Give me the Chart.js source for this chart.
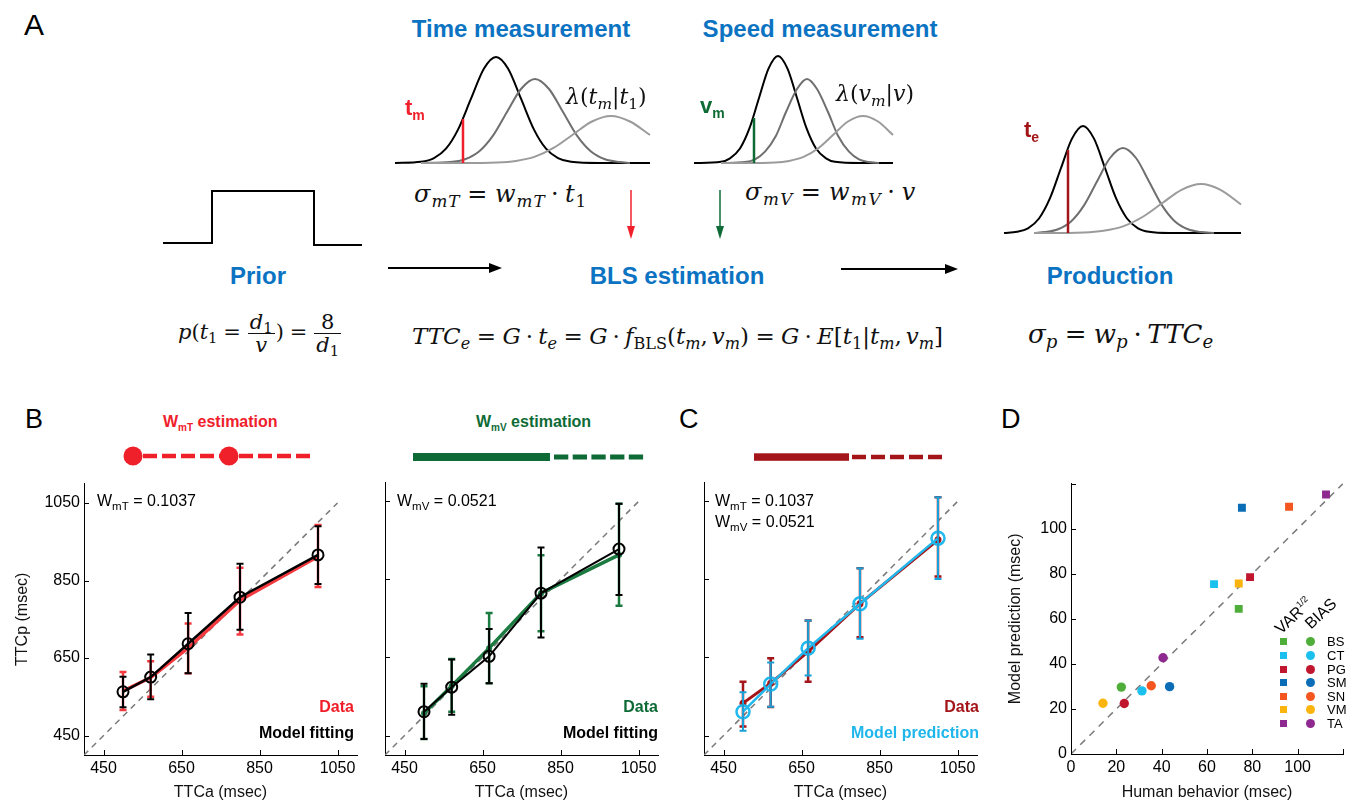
<!DOCTYPE html>
<html>
<head>
<meta charset="utf-8">
<script src="https://cdn.jsdelivr.net/npm/chart.js"></script>
<style>
html,body{margin:0;padding:0;background:#fff;}
#page{position:relative;width:1355px;height:802px;overflow:hidden;background:#fff;}
canvas{position:absolute;}
svg{position:absolute;left:0;top:0;}
.t{position:absolute;font-family:'Liberation Sans',Arial,Helvetica,sans-serif;line-height:1;white-space:nowrap;color:#000;}
.c{transform:translateX(-50%);}
.r{transform:translateX(-100%);}
.b{font-weight:bold;}
.ttl{font-weight:bold;color:#0b73c2;font-size:24px;}
.sb{font-size:0.72em;position:relative;top:0.32em;}
.fm{position:absolute;font-family:'DejaVu Serif','Liberation Serif',serif;font-style:italic;font-size:21px;line-height:1;white-space:nowrap;color:#111;}
.u{font-style:normal;}
.s{font-size:0.7em;position:relative;top:0.3em;}
.eq{font-style:normal;margin:0 0.28em;}
.dt{font-style:normal;margin:0 0.22em;}
.cm{font-style:normal;margin-right:0.17em;}
.frac{display:inline-block;vertical-align:middle;text-align:center;margin:0 1px;}
.frac>span{display:block;padding:0 2px;line-height:1.05;}
.frac>span:first-child{border-bottom:1px solid #111;}
.sq{position:absolute;width:7px;height:7px;}
.dot{position:absolute;width:9px;height:9px;border-radius:50%;}
</style>
</head>
<body>
<div id="page">

<svg width="1355" height="802">
  <!-- arrows panel A -->
  <line x1="631" y1="190" x2="631" y2="228" stroke="#f0202b" stroke-width="1.5"/>
  <polygon points="627,226 635,226 631,239" fill="#f0202b"/>
  <line x1="720" y1="190" x2="720" y2="228" stroke="#0e6b36" stroke-width="1.5"/>
  <polygon points="716,226 724,226 720,239" fill="#0e6b36"/>
  <line x1="388" y1="268" x2="492" y2="268" stroke="#000" stroke-width="2"/>
  <polygon points="489,263 489,273 502,268" fill="#000"/>
  <line x1="841" y1="269" x2="948" y2="269" stroke="#000" stroke-width="2"/>
  <polygon points="945,264 945,274 958,269" fill="#000"/>
  <!-- estimation bars -->
  <line x1="143" y1="456" x2="220" y2="456" stroke="#f0202b" stroke-width="4.5" stroke-dasharray="14 5"/>
  <line x1="239" y1="456" x2="311" y2="456" stroke="#f0202b" stroke-width="4.5" stroke-dasharray="14 5"/>
  <circle cx="133" cy="456" r="9.5" fill="#f0202b"/>
  <circle cx="229" cy="456" r="9.5" fill="#f0202b"/>
  <rect x="413" y="453" width="137" height="8" fill="#0e6b36"/>
  <line x1="554" y1="457" x2="646" y2="457" stroke="#0e6b36" stroke-width="5" stroke-dasharray="14.3 4.4"/>
  <rect x="754" y="453.3" width="95" height="7.5" fill="#a31518"/>
  <line x1="852" y1="457" x2="944" y2="457" stroke="#a31518" stroke-width="4.5" stroke-dasharray="14 5"/>
</svg>

<canvas id="gTime" width="275" height="128" style="left:385px;top:45px"></canvas>
<canvas id="gSpeed" width="219" height="128" style="left:684px;top:45px"></canvas>
<canvas id="gProd" width="257" height="128" style="left:994px;top:115px"></canvas>
<canvas id="gPrior" width="219" height="72" style="left:153px;top:181px"></canvas>

<canvas id="cB1" width="370" height="332" style="left:0px;top:470px"></canvas>
<canvas id="cB2" width="300" height="332" style="left:370px;top:470px"></canvas>
<canvas id="cC" width="300" height="332" style="left:690px;top:470px"></canvas>
<canvas id="cD" width="355" height="332" style="left:1000px;top:470px"></canvas>

<!-- panel A text -->
<div class="t" style="left:24px;top:10px;font-size:30px">A</div>
<div class="t ttl c" style="left:521px;top:17px">Time measurement</div>
<div class="t ttl c" style="left:820px;top:17px">Speed measurement</div>
<div class="t ttl c" style="left:258px;top:264px">Prior</div>
<div class="t ttl c" style="left:677px;top:264px">BLS estimation</div>
<div class="t ttl c" style="left:1110px;top:264px">Production</div>

<div class="t b" style="left:405px;top:97px;font-size:22px;color:#f0202b">t<span style="font-size:14px;position:relative;top:5px">m</span></div>
<div class="t b" style="left:700px;top:95px;font-size:22px;color:#0e6b36">v<span style="font-size:14px;position:relative;top:5px">m</span></div>
<div class="t b" style="left:1024px;top:119px;font-size:22px;color:#a31518">t<span style="font-size:14px;position:relative;top:5px">e</span></div>

<div class="fm" style="left:566px;top:86px;font-size:22px">λ<span class="u">(</span>t<span class="s">m</span><span class="u">|</span>t<span class="s u">1</span><span class="u">)</span></div>
<div class="fm" style="left:836px;top:83px;font-size:22px">λ<span class="u">(</span>v<span class="s">m</span><span class="u">|</span>v<span class="u">)</span></div>
<div class="fm" style="left:414px;top:182px;font-size:24px;letter-spacing:1px">σ<span class="s">mT</span><span class="eq">=</span>w<span class="s">mT</span><span class="dt">·</span>t<span class="s u">1</span></div>
<div class="fm" style="left:745px;top:180px;font-size:24px;letter-spacing:1.5px">σ<span class="s">mV</span><span class="eq">=</span>w<span class="s">mV</span><span class="dt">·</span>v</div>
<div class="fm" style="left:178px;top:311px">p<span class="u">(</span>t<span class="s u">1</span><span class="eq">=</span><span class="frac"><span>d<span class="s u">1</span></span><span>v</span></span><span class="u">)</span><span class="eq">=</span><span class="frac"><span class="u">8</span><span>d<span class="s u">1</span></span></span></div>
<div class="fm" style="left:412px;top:325px;font-size:23px">TTC<span class="s">e</span><span class="eq">=</span>G<span class="dt">·</span>t<span class="s">e</span><span class="eq">=</span>G<span class="dt">·</span>f<span class="s u">BLS</span><span class="u">(</span>t<span class="s">m</span><span class="cm">,</span>v<span class="s">m</span><span class="u">)</span><span class="eq">=</span>G<span class="dt">·</span>E<span class="u">[</span>t<span class="s u">1</span><span class="u">|</span>t<span class="s">m</span><span class="cm">,</span>v<span class="s">m</span><span class="u">]</span></div>
<div class="fm" style="left:1028px;top:321px;font-size:26px">σ<span class="s">p</span><span class="eq">=</span>w<span class="s">p</span><span class="dt">·</span>TTC<span class="s">e</span></div>

<!-- panels B C D text -->
<div class="t" style="left:25px;top:406px;font-size:27px">B</div>
<div class="t" style="left:679px;top:406px;font-size:27px">C</div>
<div class="t" style="left:1001px;top:406px;font-size:27px">D</div>
<div class="t b" style="left:163px;top:414px;font-size:16px;color:#f0202b">W<span style="font-size:10px;position:relative;top:4px">mT</span> estimation</div>
<div class="t b" style="left:476px;top:414px;font-size:16px;color:#0e6b36">W<span style="font-size:10px;position:relative;top:4px">mV</span> estimation</div>

<div class="t" style="left:97px;top:493px;font-size:16px">W<span class="sb">mT</span> = 0.1037</div>
<div class="t" style="left:397px;top:493px;font-size:16px">W<span class="sb">mV</span> = 0.0521</div>
<div class="t" style="left:715px;top:493px;font-size:16px">W<span class="sb">mT</span> = 0.1037</div>
<div class="t" style="left:715px;top:514px;font-size:16px">W<span class="sb">mV</span> = 0.0521</div>

<div class="t b r" style="left:354px;top:699px;font-size:16px;color:#f0202b">Data</div>
<div class="t b r" style="left:354px;top:725px;font-size:16px">Model fitting</div>
<div class="t b r" style="left:658px;top:699px;font-size:16px;color:#0e6b36">Data</div>
<div class="t b r" style="left:658px;top:725px;font-size:16px">Model fitting</div>
<div class="t b r" style="left:979px;top:699px;font-size:16px;color:#a31518">Data</div>
<div class="t b r" style="left:979px;top:725px;font-size:16px;color:#1fb6ec">Model prediction</div>

<div class="t" style="left:1283px;top:621px;font-size:16px;transform:rotate(-43deg);transform-origin:0 100%">VAR<span style="font-size:9px;position:relative;top:-7px">1/2</span></div>
<div class="t" style="left:1313px;top:616px;font-size:16px;transform:rotate(-43deg);transform-origin:0 100%">BIAS</div>
<div id="legD"></div>

</div>

<script>
var FONT = "'Liberation Sans', Arial, Helvetica, sans-serif";

// ---- panel A: curves (x offset, height above baseline)
var timeBlack = [[0,0],[26,1.2],[39,4.9],[51,14.3],[63,33.4],[76,64.3],[89,94.5],[101,106],[113,94.5],[126,64.3],[139,33.4],[151,14.3],[163,4.9],[176,1.2],[205,0],[255,0]];
var timeMid = [[26,0],[55,0.9],[70,3.7],[84,11.4],[98,27.3],[112,51],[126,74],[140,84],[154,74],[168,51],[182,27.3],[196,11.4],[210,3.7],[225,0.9],[235,0]];
var timeLight = [[26,0],[65,0],[102,0.5],[121,2.1],[140,6.4],[159,15.3],[178,28.5],[197,41.5],[216,47],[235,41.5],[255,28]];
var speedBlack = [[0,0],[27,1.2],[36,4.7],[46,14.5],[55.5,34.8],[65,65],[74.5,94.4],[84,107],[93.5,94.4],[103,65],[112.5,34.8],[122,14.5],[132,4.7],[141,1.2],[166,0],[199,0]];
var speedMid = [[27,0],[51,0.9],[61,3.7],[71,11.4],[82,27.3],[92,51],[103,74],[113,84],[123,74],[134,51],[144,27.3],[155,11.4],[165,3.7],[175,0.9],[185,0]];
var speedLight = [[27,0],[51,0],[81,0.5],[95,2.1],[110,6.4],[125,15.3],[139.5,28.5],[154,41.5],[169,47],[184,41.5],[199,28]];
var prodBlack = [[0,0],[13,1.2],[24,4.7],[35,14.5],[46,34.8],[57,65],[68,94.4],[79,107],[90,94.4],[101,65],[112,34.8],[123,14.5],[134,4.7],[145,1.2],[166,0],[237,0]];
var prodMid = [[30,0],[41,0.9],[54,3.7],[67,11.5],[80,27.6],[93,51.6],[106,75],[119,85],[132,75],[145,51.6],[158,27.6],[171,11.5],[184,3.7],[197,0.9],[210,0]];
var prodLight = [[30,0],[41,0],[80,0.5],[99.5,2.2],[119,6.6],[138.5,16],[158,29.7],[177.5,43.2],[197,49],[216.5,43.2],[237,28.5]];
var tmMark = [[68,0],[68,44]];
var vmMark = [[60,0],[60,45]];
var teMark = [[64,0],[64,83]];
var priorStep = [[0,0],[49,0],[49,52],[151,52],[151,-2],[199,-2]];

// ---- panels B, C
var ttca = [500, 571, 667, 800, 1000];
var bTData = [565, 600, 676, 799, 912];
var bTDataLo = [516, 550, 611, 711, 833];
var bTDataHi = [614, 642, 739, 883, 993];
var bTFit = [563, 601, 687, 807, 916];
var bTFitLo = [523, 544, 611, 723, 841];
var bTFitHi = [602, 659, 766, 893, 990];

var bVData = [507, 577, 674, 815, 913];
var bVDataLo = [441, 511, 584, 717, 783];
var bVDataHi = [576, 646, 764, 912, 1044];
var bVFit = [511, 574, 653, 815, 928];
var bVFitLo = [441, 503, 584, 701, 810];
var bVFitHi = [583, 645, 723, 932, 1044];

var cData = [533, 584, 665, 788, 952];
var cDataLo = [473, 523, 588, 702, 858];
var cDataHi = [588, 648, 745, 879, 1061];
var cPred = [511, 582, 674, 788, 956];
var cPredLo = [462, 524, 604, 698, 851];
var cPredHi = [561, 637, 745, 879, 1061];

var ttcTicks = [450, 650, 850, 1050];
var diagTTC = [400, 1050];

// ---- panel D
var subjects = ['BS', 'CT', 'PG', 'SM', 'SN', 'VM', 'TA'];
var subjColors = ['#4fad3a', '#1cc0ee', '#c0172f', '#0b6db6', '#f5561f', '#fbb40d', '#8e2a8f'];
var varHuman = [74, 63.1, 79, 75.4, 96.2, 74, 112.5];
var varModel = [64.4, 75.4, 78.5, 109.3, 109.7, 75.7, 115.2];
var biasHuman = [22.2, 31.3, 23.5, 43.5, 35.4, 14.1, 40.6];
var biasModel = [29.7, 28, 22.4, 29.9, 30.3, 22.5, 42.7];
var dTicks = [0, 20, 40, 60, 80, 100];
var dTickMarks = [0, 20, 40, 60, 80, 100, 120];
var diagD = [0, 120];

function pairs(arr) {
  return arr.map(function (p) { return { x: p[0], y: p[1] }; });
}
function pts(xs, ys) {
  return xs.map(function (x, i) { return { x: x, y: ys[i] }; });
}

// error bars, drawn right after their own dataset
var errBars = {
  id: 'errBars',
  afterDatasetDraw: function (chart, args) {
    var ds = chart.data.datasets[args.index];
    if (!ds.errLo) return;
    var ctx = chart.ctx, xs = chart.scales.x, ys = chart.scales.y;
    ctx.save();
    ctx.strokeStyle = ds.errColor || ds.borderColor;
    ctx.lineWidth = ds.errWidth || 2;
    ds.data.forEach(function (p, i) {
      var x = xs.getPixelForValue(p.x);
      var y1 = ys.getPixelForValue(ds.errLo[i]);
      var y2 = ys.getPixelForValue(ds.errHi[i]);
      ctx.beginPath();
      ctx.moveTo(x, y1); ctx.lineTo(x, y2);
      ctx.moveTo(x - 3.5, y1); ctx.lineTo(x + 3.5, y1);
      ctx.moveTo(x - 3.5, y2); ctx.lineTo(x + 3.5, y2);
      ctx.stroke();
    });
    ctx.restore();
  }
};

// inward tick marks
var inTicks = {
  id: 'inTicks',
  afterDraw: function (chart, args, opts) {
    if (!opts || !opts.x) return;
    var ctx = chart.ctx, a = chart.chartArea;
    ctx.save();
    ctx.strokeStyle = '#000';
    ctx.lineWidth = 1;
    ctx.beginPath();
    opts.x.forEach(function (v) {
      var px = Math.round(chart.scales.x.getPixelForValue(v)) + 0.5;
      ctx.moveTo(px, a.bottom); ctx.lineTo(px, a.bottom - 5);
    });
    opts.y.forEach(function (v) {
      var py = Math.round(chart.scales.y.getPixelForValue(v)) + 0.5;
      ctx.moveTo(a.left, py); ctx.lineTo(a.left + 5, py);
    });
    ctx.stroke();
    ctx.restore();
  }
};

function curveSet(data, color, width) {
  return {
    data: pairs(data), borderColor: color, borderWidth: width || 2,
    pointRadius: 0, cubicInterpolationMode: 'monotone', fill: false, clip: false
  };
}

function schematic(id, sets, xmax, ymin, ymax, pad) {
  new Chart(document.getElementById(id), {
    type: 'line',
    data: { datasets: sets },
    options: {
      responsive: false, animation: false, devicePixelRatio: 1,
      layout: { padding: pad },
      plugins: { legend: { display: false }, tooltip: { enabled: false } },
      scales: {
        x: { type: 'linear', min: 0, max: xmax, display: false },
        y: { type: 'linear', min: ymin, max: ymax, display: false }
      }
    }
  });
}

var gPad = { left: 10, right: 10, top: 8, bottom: 10 };
// dataset 0 is drawn on top
schematic('gTime', [
  curveSet(tmMark, '#f0202b', 2.5),
  curveSet(timeLight, '#9b9b9b'),
  curveSet(timeMid, '#6f6f6f'),
  curveSet(timeBlack, '#000')
], 255, 0, 110, gPad);
schematic('gSpeed', [
  curveSet(vmMark, '#0e6b36', 2.5),
  curveSet(speedLight, '#9b9b9b'),
  curveSet(speedMid, '#6f6f6f'),
  curveSet(speedBlack, '#000')
], 199, 0, 110, gPad);
schematic('gProd', [
  curveSet(teMark, '#a31518', 2.5),
  curveSet(prodLight, '#9b9b9b'),
  curveSet(prodMid, '#6f6f6f'),
  curveSet(prodBlack, '#000')
], 237, 0, 110, gPad);
var priorSet = curveSet(priorStep, '#000');
priorSet.cubicInterpolationMode = 'default';
priorSet.tension = 0;
schematic('gPrior', [priorSet], 199, 0, 52, { left: 10, right: 10, top: 10, bottom: 10 });

// ---- axes for the lower panels
function xAxis(min, max, ticks, title, h) {
  return {
    type: 'linear', min: min, max: max,
    afterBuildTicks: function (s) { s.ticks = ticks.map(function (v) { return { value: v }; }); },
    afterFit: function (s) { s.height = h; },
    grid: { display: false, drawTicks: false },
    border: { display: true, color: '#000', width: 1 },
    ticks: { color: '#000', font: { family: FONT, size: 16 }, padding: 4, maxRotation: 0, autoSkip: false,
      callback: function (v) { return String(v); } },
    title: { display: true, text: title, color: '#111', font: { family: FONT, size: 16 }, padding: { top: 0, bottom: 0 } }
  };
}
function yAxis(min, max, ticks, w, showLabels, title, titlePad) {
  return {
    type: 'linear', min: min, max: max,
    afterBuildTicks: function (s) { s.ticks = ticks.map(function (v) { return { value: v }; }); },
    afterFit: function (s) { s.width = w; },
    grid: { display: false, drawTicks: false },
    border: { display: true, color: '#000', width: 1 },
    ticks: { display: showLabels, color: '#000', font: { family: FONT, size: 16 }, padding: 4, autoSkip: false,
      callback: function (v) { return String(v); } },
    title: { display: !!title, text: title || '', color: '#111', font: { family: FONT, size: 16 }, padding: { top: titlePad || 0, bottom: 0 } }
  };
}

function diagSet(range) {
  return {
    data: pts(range, range), borderColor: '#7a7a7a', borderWidth: 1.5, borderDash: [6, 5],
    pointRadius: 0, fill: false
  };
}

function ttcPanel(id, sets, yw, showY, yTitle, titlePad, padRight) {
  new Chart(document.getElementById(id), {
    type: 'line',
    data: { datasets: sets },
    options: {
      responsive: false, animation: false, devicePixelRatio: 1,
      layout: { padding: { top: 12, right: padRight, left: 0, bottom: 0 } },
      plugins: { legend: { display: false }, tooltip: { enabled: false },
        inTicks: { x: ttcTicks, y: ttcTicks } },
      scales: {
        x: xAxis(400, 1100, ttcTicks, 'TTCa (msec)', 47),
        y: yAxis(400, 1100, ttcTicks, yw, showY, yTitle, titlePad)
      }
    },
    plugins: [errBars, inTicks]
  });
}

ttcPanel('cB1', [
  { data: pts(ttca, bTFit), borderColor: '#000', borderWidth: 2.5, pointRadius: 5.5, pointBorderWidth: 2,
    pointBackgroundColor: 'rgba(0,0,0,0)', pointBorderColor: '#000', errLo: bTFitLo, errHi: bTFitHi, errWidth: 2 },
  { data: pts(ttca, bTData), borderColor: '#f4393f', borderWidth: 3.5, pointRadius: 0,
    errLo: bTDataLo, errHi: bTDataHi, errWidth: 2.5 },
  diagSet(diagTTC)
], 84, true, 'TTCp (msec)', 13.4, 13);

ttcPanel('cB2', [
  { data: pts(ttca, bVFit), borderColor: '#000', borderWidth: 2, pointRadius: 5.5, pointBorderWidth: 2,
    pointBackgroundColor: 'rgba(0,0,0,0)', pointBorderColor: '#000', errLo: bVFitLo, errHi: bVFitHi, errWidth: 2 },
  { data: pts(ttca, bVData), borderColor: '#1a7a40', borderWidth: 3.5, pointRadius: 3,
    pointBackgroundColor: '#1a7a40', pointBorderWidth: 0, errLo: bVDataLo, errHi: bVDataHi, errWidth: 2.5 },
  diagSet(diagTTC)
], 15, false, null, 0, 12);

ttcPanel('cC', [
  { data: pts(ttca, cPred), borderColor: '#22b8ee', borderWidth: 2.5, pointRadius: 6.5, pointBorderWidth: 2.5,
    pointBackgroundColor: 'rgba(0,0,0,0)', pointBorderColor: '#22b8ee', errLo: cPredLo, errHi: cPredHi,
    errColor: '#1a9fd6', errWidth: 2 },
  { data: pts(ttca, cData), borderColor: '#a31518', borderWidth: 3, pointRadius: 3.5,
    pointBackgroundColor: '#a31518', pointBorderWidth: 0, errLo: cDataLo, errHi: cDataHi, errWidth: 2.5 },
  diagSet(diagTTC)
], 14, false, null, 0, 13);

// ---- panel D
new Chart(document.getElementById('cD'), {
  type: 'scatter',
  data: {
    datasets: [
      { data: pts(biasHuman, biasModel), pointStyle: 'circle', pointRadius: 4.7, pointBorderWidth: 0,
        pointBackgroundColor: subjColors, showLine: false },
      { data: pts(varHuman, varModel), pointStyle: 'rect', pointRadius: 5.6, pointBorderWidth: 0,
        pointBackgroundColor: subjColors, showLine: false },
      { type: 'line', data: pts(diagD, diagD), borderColor: '#7a7a7a', borderWidth: 1.5, borderDash: [7, 6],
        pointRadius: 0, fill: false }
    ]
  },
  options: {
    responsive: false, animation: false, devicePixelRatio: 1,
    layout: { padding: { top: 11, right: 12, left: 0, bottom: 0 } },
    plugins: { legend: { display: false }, tooltip: { enabled: false },
      inTicks: { x: dTickMarks, y: dTickMarks } },
    scales: {
      x: xAxis(0, 120, dTicks, 'Human behavior (msec)', 48),
      y: yAxis(0, 120, dTicks, 71, true, 'Model prediction (msec)', 6.4)
    }
  },
  plugins: [inTicks]
});

// legend of panel D
var leg = document.getElementById('legD');
var rowY = [641, 655, 669, 682, 696, 709, 723];
subjects.forEach(function (s, i) {
  var sq = document.createElement('div');
  sq.className = 'sq';
  sq.style.left = '1280px'; sq.style.top = (rowY[i] - 3.5) + 'px'; sq.style.background = subjColors[i];
  leg.appendChild(sq);
  var d = document.createElement('div');
  d.className = 'dot';
  d.style.left = '1305.5px'; d.style.top = (rowY[i] - 4.5) + 'px'; d.style.background = subjColors[i];
  leg.appendChild(d);
  var tx = document.createElement('div');
  tx.className = 't';
  tx.style.left = '1327px'; tx.style.top = (rowY[i] - 6.5) + 'px'; tx.style.fontSize = '13px';
  tx.textContent = s;
  leg.appendChild(tx);
});
</script>
</body>
</html>
